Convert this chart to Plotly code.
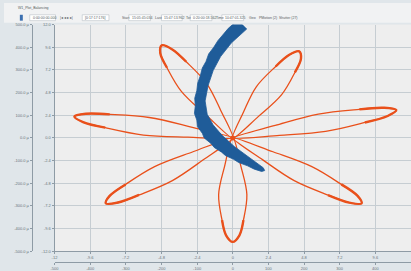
import plotly.graph_objects as go

# ---------------- data ----------------
inner_ticks = [-12, -9.6, -7.2, -4.8, -2.4, 0, 2.4, 4.8, 7.2, 9.6, 12]
inner_x_text = ["-12", "-9.6", "-7.2", "-4.8", "-2.4", "0", "2.4", "4.8", "7.2", "9.6", ""]
inner_y_text = ["-12.0", "-9.6", "-7.2", "-4.8", "-2.4", "0.0", "2.4", "4.8", "7.2", "9.6", "12.0"]
outer_ticks = [-500, -400, -300, -200, -100, 0, 100, 200, 300, 400, 500]
outer_x_text = ["-500", "-400", "-300", "-200", "-100", "0", "100", "200", "300", "400", ""]
outer_y_text = ["-500.0 µ", "-400.0 µ", "-300.0 µ", "-200.0 µ", "-100.0 µ", "0.0 µ",
                "100.0 µ", "200.0 µ", "300.0 µ", "400.0 µ", "500.0 µ"]

# red orbit: seven petals (outline points, data units)
petal_left_x = [0, -3.022, -6.013, -8.582, -10.077, -10.661, -9.889, -8.282, -5.618, -2.794, 0]
petal_left_y = [0, 0.080, 0.307, 1.088, 1.682, 2.266, 2.562, 2.496, 2.165, 1.156, 0]
petal_ul_x = [0, -1.797, -3.460, -4.427, -4.879, -4.779, -4.070, -3.133, -1.752, -0.809, 0]
petal_ul_y = [0, 2.431, 4.927, 7.433, 8.976, 9.797, 9.370, 8.065, 5.760, 2.913, 0]
petal_ur_x = [0, 0.726, 1.585, 2.890, 3.783, 4.472, 4.592, 4.184, 3.293, 1.714, 0]
petal_ur_y = [0, 2.741, 5.418, 7.567, 8.781, 9.168, 8.387, 6.935, 4.585, 2.259, 0]
petal_right_x = [0, 2.861, 5.760, 8.523, 10.195, 11.011, 10.428, 8.895, 6.252, 3.145, 0]
petal_right_y = [0, 1.336, 2.527, 3.028, 3.198, 2.950, 2.328, 1.638, 0.691, 0.274, 0]
petal_lr_x = [0, 2.709, 5.325, 7.310, 8.404, 8.675, 7.842, 6.412, 4.139, 2.023, 0]
petal_lr_y = [0, -1.459, -3.036, -4.914, -6.133, -6.925, -6.837, -6.040, -4.520, -2.319, 0]
petal_bottom_x = [0, 0.55, 0.95, 0.72, 0.45, 0, -0.45, -0.72, -0.95, -0.55, 0]
petal_bottom_y = [0, -3, -6, -8.7, -10.3, -11, -10.3, -8.7, -6, -3, 0]
petal_ll_x = [0, -1.985, -4.065, -6.308, -7.721, -8.548, -8.287, -7.214, -5.261, -2.677, 0]
petal_ll_y = [0, -2.315, -4.514, -6.035, -6.832, -6.922, -6.132, -4.916, -3.038, -1.461, 0]

petals = [(petal_left_x, petal_left_y), (petal_ul_x, petal_ul_y), (petal_ur_x, petal_ur_y),
          (petal_right_x, petal_right_y), (petal_lr_x, petal_lr_y),
          (petal_bottom_x, petal_bottom_y), (petal_ll_x, petal_ll_y)]

center_x = [0]
center_y = [0]

# blue band: outer edge (top -> bottom, slightly ragged) then inner edge (bottom -> top)
blue_outer_x = [0.35, -0.30, -0.62, -1.00, -1.28, -1.62, -1.80, -2.05, -2.18, -2.36, -2.42, -2.56,
                -2.52, -2.58, -2.42, -2.38, -2.05, -1.92, -1.45, -1.25, -0.75, -0.50, 0.05, 0.40,
                1.00, 1.45, 1.95, 2.15]
blue_outer_y = [12.5, 11.6, 11.0, 10.3, 9.6, 8.9, 8.1, 7.4, 6.6, 5.8, 5.0, 4.2,
                3.4, 2.6, 1.9, 1.2, 0.5, 0.0, -0.6, -1.0, -1.5, -1.85, -2.25, -2.6,
                -2.95, -3.3, -3.55, -3.45]
blue_inner_x = [2.05, 1.05, 0.10, -0.72, -1.32, -1.72, -1.86, -1.66, -1.32, -0.82, -0.10, 0.95]
blue_inner_y = [-3.15, -2.00, -0.90, 0.28, 1.38, 2.50, 3.92, 5.55, 7.13, 8.61, 10.05, 11.55]

RED = "#e9501b"
BLUE = "#1f5c99"
W, H = 411, 271

fig = go.Figure()

for px, py in petals:
    fig.add_trace(go.Scatter(x=px, y=py, mode="lines",
                             line=dict(color=RED, width=1.3, shape="spline"),
                             hoverinfo="skip", showlegend=False))
    fig.add_trace(go.Scatter(x=px[3:8], y=py[3:8], mode="lines",
                             line=dict(color=RED, width=2.4, shape="spline"),
                             hoverinfo="skip", showlegend=False))

fig.add_trace(go.Scatter(x=center_x, y=center_y, mode="markers",
                         marker=dict(color=RED, size=5), hoverinfo="skip", showlegend=False))

fig.add_trace(go.Scatter(x=blue_outer_x + blue_inner_x, y=blue_outer_y + blue_inner_y,
                         mode="lines", fill="toself", fillcolor=BLUE,
                         line=dict(color=BLUE, width=0.8),
                         hoverinfo="skip", showlegend=False))

# anchor trace for the secondary (outer) axes
fig.add_trace(go.Scatter(x=outer_ticks[5:6], y=outer_ticks[5:6], xaxis="x2", yaxis="y2",
                         mode="markers", marker=dict(opacity=0), hoverinfo="skip", showlegend=False))

tickfont = dict(family="Liberation Sans, Arial", size=4, color="#6a737a")
axis_line = "#8e9ba5"

fig.update_layout(
    width=W, height=H, autosize=False,
    margin=dict(l=0, r=0, t=0, b=0),
    paper_bgcolor="#e0e6ea", plot_bgcolor="#eeeeee",
    xaxis=dict(domain=[51 / W, 1.0], range=[-12, 12], tickvals=inner_ticks, ticktext=inner_x_text,
               showgrid=True, gridcolor="#c6cdd2", gridwidth=1, zeroline=False,
               showline=True, linecolor=axis_line, ticks="outside", ticklen=2, tickcolor=axis_line,
               tickfont=tickfont, anchor="y", fixedrange=True),
    yaxis=dict(domain=[1 - 253 / H, 1 - 22 / H], range=[-12, 12], tickvals=inner_ticks, ticktext=inner_y_text,
               showgrid=True, gridcolor="#c6cdd2", gridwidth=1, zeroline=False,
               showline=True, linecolor=axis_line, ticks="outside", ticklen=2, tickcolor=axis_line,
               tickfont=tickfont, anchor="x", fixedrange=True),
    xaxis2=dict(overlaying="x", anchor="free", position=1 - 264 / H, side="bottom",
                range=[-500, 500], tickvals=outer_ticks, ticktext=outer_x_text,
                showgrid=False, zeroline=False, showline=True, linecolor=axis_line,
                ticks="outside", ticklen=2, tickcolor=axis_line, tickfont=tickfont, fixedrange=True),
    yaxis2=dict(overlaying="y", anchor="free", position=28 / W, side="left",
                range=[-500, 500], tickvals=outer_ticks, ticktext=outer_y_text,
                showgrid=False, zeroline=False, showline=True, linecolor=axis_line,
                ticks="outside", ticklen=2, tickcolor=axis_line, tickfont=tickfont, fixedrange=True),
)

# window chrome: title bar and toolbar
shapes = [dict(type="rect", xref="paper", yref="paper", x0=0, x1=1, y0=1 - 20 / H, y1=1,
               fillcolor="#f1f2f3", line=dict(width=0), layer="below")]
boxes = [(26, 52), (79, 106), (126, 148), (159, 180), (188, 210), (220, 242)]
for b0, b1 in boxes:
    shapes.append(dict(type="rect", xref="paper", yref="paper", x0=b0 / W, x1=b1 / W,
                       y0=1 - 18 / H, y1=1 - 12 / H, fillcolor="#ffffff",
                       line=dict(color="#b9c0c6", width=0.6)))
shapes.append(dict(type="rect", xref="paper", yref="paper", x0=16 / W, x1=19 / W,
                   y0=1 - 18 / H, y1=1 - 12 / H, fillcolor="#3b6fb0", line=dict(width=0)))
fig.update_layout(shapes=shapes)

small = dict(family="Liberation Sans, Arial", size=3.5, color="#555b60")
labels = [
    (12, 5, "W1_Plot_Balancing"),
    (27, 15, "0:00:00:00.000"),
    (55, 15, "|◂ ◂ ▸ ▸|"),
    (80, 15, "[0:17:17:176]"),
    (117, 15, "Start"),
    (127, 15, "15:05:45:034"),
    (150, 15, "Last"),
    (160, 15, "15:47:13.962"),
    (182, 15, "Tot"),
    (189, 15, "0:20:00:18.562"),
    (212, 15, "Time"),
    (221, 15, "10:47:01.325"),
    (245, 15, "Geo"),
    (255, 15, "PMotion (2)  Shutter (27)"),
]
for lx, ly, t in labels:
    fig.add_annotation(x=lx / W, y=1 - ly / H, xref="paper", yref="paper", text=t,
                       showarrow=False, xanchor="left", yanchor="middle", font=small)

fig.write_html("out.html", config={"displayModeBar": False},
               post_script="document.body.style.margin='0';document.body.style.overflow='hidden';")
